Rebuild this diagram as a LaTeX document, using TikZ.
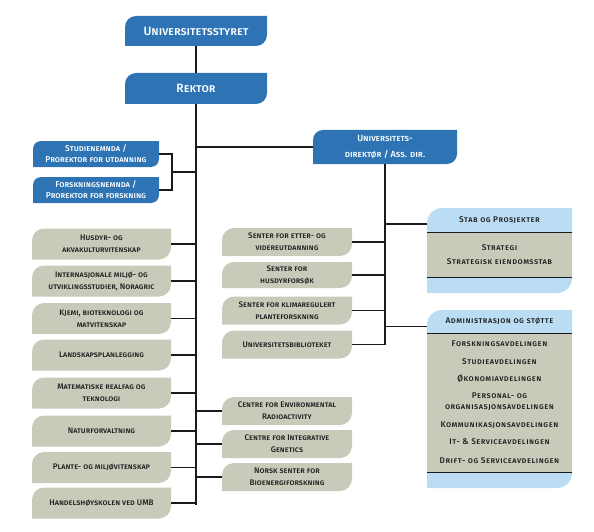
\documentclass[tikz,border=0pt]{standalone}
\usepackage{fontspec}
\setmainfont{Fira Sans Medium}
\usetikzlibrary{calc,backgrounds}
\definecolor{uniblue}{HTML}{2E74B5}
\definecolor{unigray}{HTML}{C9CBBA}
\definecolor{unilight}{HTML}{BBDDF3}
\definecolor{lineblk}{HTML}{1A1A1A}
\definecolor{txt}{HTML}{1E1E1E}

% leaf-shaped fill: rounded top-left and bottom-right corners
\newcommand{\leafpath}[4]{%
  \begin{pgfonlayer}{background}
  \fill[#3] let \p1=#1, \p2=#2 in
    (\x1,\y2) -- (\x1,\y1-#4)
    .. controls (\x1,\y1-0.45*#4) and (\x1+0.45*#4,\y1) .. (\x1+#4,\y1)
    -- (\x2,\y1) -- (\x2,\y2+#4)
    .. controls (\x2,\y2+0.45*#4) and (\x2-0.45*#4,\y2) .. (\x2-#4,\y2)
    -- cycle;
  \end{pgfonlayer}}

\newcommand{\wide}{\addfontfeatures{LetterSpace=6}}

\tikzset{
  box/.style={inner sep=1pt, outer sep=0pt, align=center, text=txt,
    font=\fontsize{8.1}{12}\selectfont\scshape},
  bluebox/.style={box, text=white, font=\fontsize{8.5}{11}\selectfont\scshape},
  bigblue/.style={box, text=white, font=\fontsize{12}{13}\selectfont\scshape},
  leftbox/.style={box, minimum width=139, minimum height=31},
  midbox/.style={box, minimum width=130, minimum height=28},
  rightpart/.style={box, minimum width=145, font=\fontsize{8.3}{13.5}\selectfont\scshape\wide},
  item/.style={inner sep=0pt, text=txt, font=\fontsize{8.3}{11}\selectfont\scshape\wide, align=center},
  thinline/.style={draw=lineblk, line width=1.2},
  thickline/.style={draw=lineblk, line width=2.8},
  sepline/.style={draw=lineblk, line width=1}
}

\begin{document}
\begin{tikzpicture}[x=1pt, y=-1pt]
\useasboundingbox (0,0) rectangle (594,532);

% top blue boxes
\node[bigblue, minimum width=142, minimum height=30] (styret) at (196,31) {Universitetsstyret};
\node[bigblue, minimum width=142, minimum height=31] (rektor) at (196,88.5) {Rektor};
\node[bluebox, minimum width=126, minimum height=26] (stud) at (96,154) {Studienemnda /\\Prorektor for utdanning};
\node[bluebox, minimum width=126, minimum height=26] (forsk) at (96,190) {Forskningsnemnda /\\Prorektor for forskning};
\node[bluebox, minimum width=144, minimum height=34, font=\fontsize{9}{15.5}\selectfont\scshape] (dir) at (385,147) {Universitets-\\direktør / Ass. dir.};

\leafpath{(styret.north west)}{(styret.south east)}{uniblue}{11pt}
\leafpath{(rektor.north west)}{(rektor.south east)}{uniblue}{11pt}
\leafpath{(stud.north west)}{(stud.south east)}{uniblue}{8pt}
\leafpath{(forsk.north west)}{(forsk.south east)}{uniblue}{8pt}
\leafpath{(dir.north west)}{(dir.south east)}{uniblue}{10pt}

% left column
\node[leftbox] (husdyr) at (101.5,244) {Husdyr- og\\akvakulturvitenskap};
\node[leftbox] (noragric) at (101.5,281) {Internasjonale miljø- og\\utviklingsstudier, Noragric};
\node[leftbox] (kjemi) at (101.5,318.5) {Kjemi, bioteknologi og\\matvitenskap};
\node[leftbox] (landskap) at (101.5,355) {Landskapsplanlegging};
\node[leftbox] (matte) at (101.5,393) {Matematiske realfag og\\teknologi};
\node[leftbox] (natur) at (101.5,431) {Naturforvaltning};
\node[leftbox] (plante) at (101.5,467.5) {Plante- og miljøvitenskap};
\node[leftbox] (handel) at (101.5,503) {Handelshøyskolen ved UMB};
\foreach \nm in {husdyr,noragric,kjemi,landskap,matte,natur,plante,handel}
  {\leafpath{(\nm.north west)}{(\nm.south east)}{unigray}{12pt}}

% middle column
\node[midbox] (etter) at (287,242) {Senter for etter- og\\videreutdanning};
\node[midbox, minimum height=26] (hfors) at (287,275) {Senter for\\husdyrforsøk};
\node[midbox] (klima) at (287,310.5) {Senter for klimaregulert\\planteforskning};
\node[midbox] (bib) at (287,344.5) {Universitetsbiblioteket};
\node[midbox] (env) at (287,411) {Centre for Environmental\\Radioactivity};
\node[midbox] (gen) at (287,444) {Centre for Integrative\\Genetics};
\node[midbox] (bio) at (287,477) {Norsk senter for\\Bioenergiforskning};
\foreach \nm in {etter,hfors,klima,bib,env,gen,bio}
  {\leafpath{(\nm.north west)}{(\nm.south east)}{unigray}{12pt}}

% right: stab
\node[rightpart, minimum height=24] (stabhead) at (499.5,220) {Stab og Prosjekter};
\node[rightpart, minimum height=45, fill=unigray] (stabbody) at (499.5,254.5) {Strategi\\Strategisk eiendomsstab};
\coordinate (stabend) at (572,293);
\leafpath{(stabhead.north west)}{(stabend)}{unilight}{15pt}
\draw[sepline] (stabbody.north west) -- (stabbody.north east);
\draw[sepline] (stabbody.south west) -- (stabbody.south east);

% right: administrasjon
\node[rightpart, minimum height=23] (adminhead) at (499.5,321.5) {Administrasjon og støtte};
\node[rightpart, minimum height=139, fill=unigray] (adminbody) at (499.5,402.5) {};
\coordinate (adminend) at (572,488);
\leafpath{(adminhead.north west)}{(adminend)}{unilight}{15pt}
\draw[sepline] (adminbody.north west) -- (adminbody.north east);
\draw[sepline] (adminbody.south west) -- (adminbody.south east);
\node[item] (a1) at (499.5,344) {Forskningsavdelingen};
\node[item] (a2) at (499.5,362) {Studieavdelingen};
\node[item] (a3) at (499.5,379) {Økonomiavdelingen};
\node[item] (a4) at (499.5,401.5) {Personal- og\\organisasjonsavdelingen};
\node[item] (a5) at (499.5,425) {Kommunikasjonsavdelingen};
\node[item] (a6) at (499.5,442) {It- \& Serviceavdelingen};
\node[item] (a7) at (499.5,461) {Drift- og Serviceavdelingen};

% spine
\coordinate (spineend) at (196,505);
\draw[thickline] (styret.south) -- (rektor.north);
\draw[thickline] (rektor.south) -- (spineend);

% studienemnda bracket
\coordinate (brk) at (172,172);
\draw[thinline] (stud.east) -| (brk) |- (forsk.east);
\draw[thinline] (brk) -- (brk -| spineend);

% direktør
\draw[thinline] (dir.west -| spineend) -- (dir.west);
\draw[thickline] (dir.south) -- (dir.south |- bib.east);

% left connectors
\foreach \nm in {husdyr,noragric,kjemi,landskap,matte,natur,plante,handel}
  {\draw[thinline] (\nm.east) -- (\nm.east -| spineend);}
% centre connectors
\foreach \nm in {env,gen,bio}
  {\draw[thinline] (\nm.west -| spineend) -- (\nm.west);}
% middle connectors
\foreach \nm in {etter,hfors,klima,bib}
  {\draw[thinline] (\nm.east) -- (\nm.east -| dir.south);}
% right connectors
\draw[thinline] ([yshift=-4pt]stabhead.west -| dir.south) -- ([yshift=-4pt]stabhead.west);
\draw[thinline] ([yshift=-5pt]adminhead.west -| dir.south) -- ([yshift=-5pt]adminhead.west);
\end{tikzpicture}
\end{document}
